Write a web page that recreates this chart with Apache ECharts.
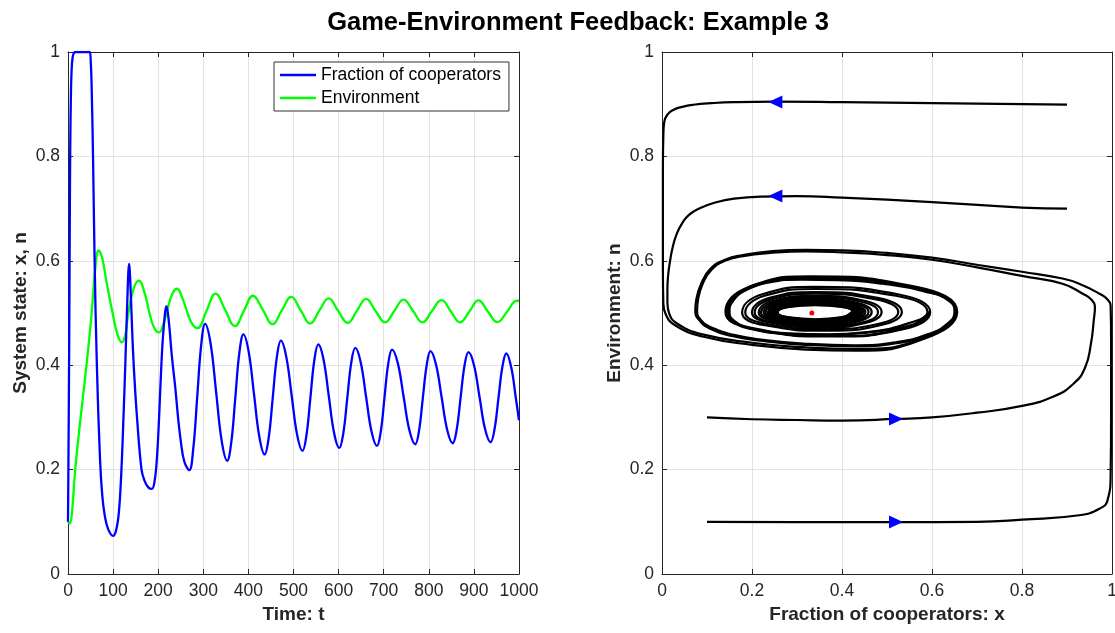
<!DOCTYPE html>
<html>
<head>
<meta charset="utf-8">
<script src="https://cdn.jsdelivr.net/npm/echarts@6/dist/echarts.min.js"></script>
<style>
html,body{margin:0;padding:0;background:#fff;}
#chart{width:1115px;height:633px;}
</style>
</head>
<body>
<div id="chart"></div>
<script>
// ---------- Data ----------
const titleText = 'Game-Environment Feedback: Example 3';
const timeTicks = [0, 100, 200, 300, 400, 500, 600, 700, 800, 900, 1000];

// Left panel: fraction of cooperators x(t)
const cooperators = [
 [0,0.1],[1,0.22],[2,0.35],[3,0.5],[4,0.68],[5,0.82],[6.5,0.92],[8,0.965],[10,0.988],[13,0.998],[17,1],[48,1],
 [50.5,0.98],[52.5,0.93],[55.5,0.8],[59,0.6],[64,0.4],[71,0.22],[76,0.15],[81.5,0.112],[89,0.086],[100,0.073],
 [107,0.085],[113,0.12],[118.5,0.2],[123,0.3],[127,0.4],[131,0.51],[135.5,0.594],[139.5,0.53],[143,0.45],
 [147,0.38],[153,0.3],[163,0.2],[170,0.178],[178,0.166],[186,0.163],[192,0.178],[197,0.22],[202,0.3],[207,0.4],
 [212,0.47],[218.5,0.513],[224,0.48],[230,0.42],[238,0.356],[244,0.3],[250,0.255],[258,0.215],[269,0.199],
 [277.75,0.24],[286.5,0.339],[295.25,0.438],[304,0.479],[316.25,0.441],[328.5,0.348],[340.75,0.255],
 [353,0.217],[362,0.252],[371,0.338],[380,0.424],[389,0.459],[400.75,0.425],[412.5,0.344],[424.25,0.263],
 [436,0.229],[445,0.261],[454,0.338],[463,0.415],[472,0.447],[484,0.416],[496,0.3415],[508,0.267],
 [520,0.236],[528.75,0.266],[537.5,0.338],[546.25,0.41],[555,0.44],[566.6,0.411],[578.25,0.341],[589.9,0.2705],
 [601.5,0.2415],[610.4,0.2695],[619.25,0.337],[628.1,0.405],[637,0.433],[649,0.4056],[661,0.339],[673,0.2728],
 [685,0.2454],[693.4,0.2724],[701.75,0.338],[710.1,0.403],[718.5,0.43],[731.4,0.4035],[744.25,0.339],[757.1,0.275],
 [770,0.2486],[778.4,0.2746],[786.85,0.338],[795.3,0.4],[803.7,0.427],[816,0.4012],[828.35,0.339],[840.7,0.2763],
 [853,0.2505],[861.75,0.276],[870.5,0.338],[879.25,0.3995],[888,0.425],[900.25,0.3998],[912.5,0.339],[924.75,0.2776],
 [937,0.2524],[945.7,0.2772],[954.45,0.337],[963.2,0.397],[971.9,0.4224],[983,0.395],[993,0.337],[1000,0.2946]
];

// Left panel: environment n(t)
const environment = [
 [0,0.1],[4,0.097],[9,0.12],[16,0.2],[28,0.3],[41,0.4],[52,0.495],[60,0.58],[68,0.62],[76,0.605],[85,0.561],
 [100,0.495],[110,0.458],[119,0.444],[127,0.458],[133,0.495],[145,0.545],[157,0.562],[170,0.538],[181.5,0.497],
 [192,0.47],[202,0.463],[212,0.48],[222,0.512],[232,0.538],[242,0.5465],[253,0.53],[265,0.5],[276,0.478],
 [287,0.471],[307,0.504],[327,0.537],[348.5,0.506],[370,0.475],[390,0.504],[410,0.533],[432,0.506],
 [453.7,0.4786],[474,0.505],[495,0.531],[516,0.505],[537,0.48],[557.5,0.505],[578,0.528],[599,0.504],
 [620,0.481],[640.5,0.504],[661,0.527],[682,0.504],[703,0.482],[723.5,0.504],[744,0.5255],[765,0.504],
 [786,0.482],[807,0.504],[828,0.5245],[849,0.503],[869,0.482],[890,0.503],[910,0.524],[931,0.503],
 [952,0.4825],[974,0.503],[995,0.5235],[1000,0.523]
];

// Right panel: phase-plane trajectories [x, n]
const trajFromTop = [
 [0.9,0.899],[0.8,0.9],[0.6,0.902],[0.4,0.904],[0.25,0.905],[0.16,0.904],[0.11,0.902],[0.07,0.899],[0.045,0.895],
 [0.025,0.889],[0.012,0.88],[0.005,0.866],[0.003,0.84],[0.002,0.78],[0.002,0.68],[0.002,0.58],[0.003,0.52],
 [0.008,0.498],[0.03,0.476],[0.09,0.455],[0.2,0.439],[0.32,0.43],[0.43,0.428],
 [0.584,0.451],[0.656,0.502],[0.565,0.55],[0.33,0.57],[0.194,0.55],[0.141,0.502],[0.205,0.469],[0.38,0.455],
 [0.536,0.469],[0.596,0.502],[0.524,0.536],[0.34,0.55],[0.223,0.536],[0.178,0.501],[0.229,0.4765],[0.37,0.466],
 [0.487,0.477],[0.533,0.502],[0.479,0.529],[0.34,0.54],[0.239,0.529],[0.2,0.501],[0.243,0.481],[0.36,0.472],
 [0.452,0.481],[0.488,0.502],[0.447,0.524],[0.34,0.533],[0.25,0.524],[0.215,0.501],[0.253,0.484],[0.355,0.476],
 [0.435,0.484],[0.466,0.502],[0.431,0.52],[0.34,0.528],[0.258,0.52],[0.226,0.501],[0.261,0.486],[0.352,0.479],
 [0.424,0.486],[0.452,0.502],[0.421,0.517],[0.34,0.524],[0.264,0.517],[0.235,0.501],[0.266,0.487],[0.35,0.481],
 [0.417,0.487],[0.443,0.502],[0.414,0.515],[0.34,0.521],[0.269,0.515],[0.242,0.501],[0.271,0.488],[0.347,0.483],
 [0.411,0.488],[0.436,0.502],[0.409,0.514],[0.34,0.519],[0.274,0.514],[0.248,0.501],[0.275,0.49],[0.345,0.485],
 [0.406,0.49],[0.431,0.502],[0.405,0.5125],[0.34,0.517],[0.277,0.5125],[0.252,0.501],[0.277,0.4905],[0.343,0.486],
 [0.403,0.4905],[0.427,0.502],[0.402,0.512],[0.34,0.516],[0.28,0.512],[0.255,0.501],[0.28,0.491],[0.342,0.487],
 [0.4,0.491],[0.424,0.502],[0.4,0.5115],[0.34,0.515],[0.282,0.5115],[0.257,0.501],[0.282,0.4915],[0.342,0.488],
 [0.398,0.4915],[0.422,0.502]
];
const trajFromUpper = [
 [0.9,0.7],[0.8,0.702],[0.6,0.7125],[0.4,0.721],[0.3,0.724],[0.22,0.723],[0.16,0.719],[0.12,0.712],[0.085,0.701],
 [0.06,0.688],[0.045,0.672],[0.033,0.652],[0.024,0.627],[0.018,0.6],[0.014,0.575],[0.012,0.545],[0.012,0.52],
 [0.016,0.499],[0.035,0.479],[0.09,0.459],[0.2,0.443],[0.32,0.434],[0.43,0.431],
 [0.586,0.453],[0.654,0.502],[0.563,0.548],[0.33,0.568],[0.196,0.548],[0.143,0.502],[0.207,0.47],[0.38,0.456],
 [0.537,0.47],[0.594,0.502]
];
const trajFromMiddle = [
 [0.1,0.3],[0.2,0.2965],[0.3,0.295],[0.4,0.294],[0.52,0.297],[0.6,0.3],[0.7,0.309],[0.8,0.322],[0.87,0.34],
 [0.915,0.365],[0.94,0.395],[0.953,0.44],[0.96,0.49],[0.962,0.51],[0.955,0.525],[0.935,0.537],[0.89,0.556],
 [0.8,0.571],[0.703,0.587],[0.6,0.602],[0.5,0.611],[0.4,0.616],[0.32,0.618],[0.24,0.615],[0.18,0.609],[0.14,0.6],
 [0.11,0.583],[0.09,0.555],[0.08,0.525],[0.078,0.505],[0.085,0.488],[0.11,0.472],[0.16,0.458],[0.22,0.449],
 [0.32,0.441],[0.43,0.438],[0.52,0.444],[0.59,0.459],[0.635,0.48],[0.65,0.503],[0.638,0.523],[0.585,0.541],
 [0.49,0.556],[0.39,0.563],[0.31,0.564],[0.235,0.558],[0.185,0.543],[0.157,0.522],[0.15,0.502],[0.162,0.484],
 [0.2,0.47],[0.28,0.461],[0.37,0.459],[0.46,0.464],
 [0.528,0.475],[0.59,0.502],[0.52,0.533],[0.34,0.546],[0.228,0.533],[0.185,0.501],[0.234,0.479],[0.365,0.469],
 [0.48,0.479],[0.525,0.502],[0.473,0.5265],[0.34,0.537],[0.244,0.5265],[0.206,0.501],[0.247,0.482],[0.357,0.474],
 [0.446,0.482],[0.48,0.502],[0.441,0.522],[0.34,0.531],[0.254,0.522],[0.22,0.501],[0.256,0.4845],[0.353,0.477],
 [0.43,0.485],[0.459,0.502],[0.426,0.519],[0.34,0.526],[0.261,0.519],[0.23,0.501],[0.263,0.4865],[0.35,0.48],
 [0.42,0.4865],[0.447,0.502],[0.417,0.516],[0.34,0.522],[0.267,0.516],[0.239,0.501],[0.269,0.488],[0.347,0.482],
 [0.413,0.488],[0.439,0.502],[0.411,0.5145],[0.34,0.52],[0.271,0.5145],[0.245,0.501],[0.273,0.489],[0.345,0.484],
 [0.408,0.489],[0.433,0.502],[0.407,0.513],[0.34,0.518],[0.275,0.513],[0.25,0.501],[0.276,0.49],[0.344,0.4855],
 [0.404,0.4905],[0.429,0.502],[0.403,0.512],[0.34,0.5165],[0.279,0.512],[0.254,0.501],[0.279,0.491],[0.343,0.4865],
 [0.401,0.491],[0.425,0.502],[0.401,0.5115],[0.34,0.5155],[0.281,0.5115],[0.256,0.501],[0.281,0.4915],[0.342,0.4875],
 [0.399,0.4915],[0.423,0.502]
];
const trajFromBottom = [
 [0.1,0.1],[0.3,0.0995],[0.52,0.0995],[0.7,0.1],[0.8,0.104],[0.927,0.1125],[0.972,0.125],[0.99,0.141],[0.997,0.19],
 [0.998,0.3],[0.998,0.45],[0.997,0.512],[0.99,0.526],[0.972,0.537],[0.927,0.556],[0.89,0.566],[0.8,0.579],
 [0.703,0.592],[0.6,0.606],[0.5,0.615],[0.4,0.62],[0.32,0.621],[0.24,0.618],[0.18,0.611],[0.14,0.602],
 [0.108,0.585],[0.087,0.556],[0.076,0.525],[0.074,0.505],[0.082,0.487],[0.107,0.47],[0.155,0.456],[0.22,0.447],
 [0.32,0.439],[0.43,0.436],[0.52,0.442],[0.59,0.457],[0.637,0.478],[0.652,0.503],[0.64,0.524],[0.587,0.542],
 [0.49,0.558],[0.39,0.565],[0.31,0.566],[0.235,0.56],[0.183,0.545],[0.154,0.523],[0.147,0.502],[0.16,0.483],
 [0.2,0.469],[0.28,0.46],[0.37,0.458],[0.46,0.463],[0.54,0.474],[0.583,0.488],[0.594,0.503]
];
const arrowsLeft = [[0.252,0.904],[0.252,0.724]];
const arrowsRight = [[0.52,0.297],[0.52,0.0997]];
const equilibrium = [[0.333,0.5]];

// ---------- Chart ----------
const FONT = '"Liberation Sans", Arial, Helvetica, sans-serif';
const AX = '#262626';
const GRID = '#e3e3e3';

function mainAxis(extra) {
  return Object.assign({
    type: 'value',
    axisLine: {show: true, onZero: false, lineStyle: {color: AX, width: 1}},
    axisTick: {show: true, inside: true, length: 5, lineStyle: {color: AX}},
    axisLabel: {color: AX, fontSize: 17.5, fontFamily: FONT, margin: 8, formatter: v => String(v)},
    splitLine: {show: true, lineStyle: {color: GRID, width: 1}},
    nameTextStyle: {color: AX, fontSize: 19, fontWeight: 'bold', fontFamily: FONT},
    nameLocation: 'middle'
  }, extra);
}
function boxAxis(extra) {
  return Object.assign({
    type: 'value',
    axisLine: {show: true, onZero: false, lineStyle: {color: AX, width: 1}},
    axisTick: {show: true, inside: true, length: 5, lineStyle: {color: AX}},
    axisLabel: {show: false},
    splitLine: {show: false}
  }, extra);
}

const chart = echarts.init(document.getElementById('chart'), null, {renderer: 'canvas'});
const option = {
  animation: false,
  backgroundColor: '#fff',
  title: {
    text: titleText, left: 573, top: 5, textAlign: 'center',
    textStyle: {fontSize: 25.5, fontWeight: 'bold', color: '#000', fontFamily: FONT}
  },
  legend: {
    show: true, orient: 'vertical', left: 274, top: 62,
    data: [{name: 'Fraction of cooperators', icon: 'rect'}, {name: 'Environment', icon: 'rect'}],
    itemWidth: 36, itemHeight: 2.5, itemGap: 3,
    padding: [3, 8, 3, 6],
    borderColor: '#333', borderWidth: 1, backgroundColor: '#fff', borderRadius: 0,
    textStyle: {fontSize: 17.5, lineHeight: 20, color: '#000', fontFamily: FONT}
  },
  grid: [
    {left: 68, top: 52, width: 451, height: 522, outerBoundsMode: 'none', containLabel: false},
    {left: 662, top: 52, width: 450, height: 522, outerBoundsMode: 'none', containLabel: false}
  ],
  xAxis: [
    mainAxis({gridIndex: 0, min: 0, max: 1000, interval: 100, name: 'Time: t', nameGap: 31}),
    mainAxis({gridIndex: 1, min: 0, max: 1, interval: 0.2, name: 'Fraction of cooperators: x', nameGap: 31}),
    boxAxis({gridIndex: 0, position: 'top', min: 0, max: 1000, interval: 100}),
    boxAxis({gridIndex: 1, position: 'top', min: 0, max: 1, interval: 0.2})
  ],
  yAxis: [
    mainAxis({gridIndex: 0, min: 0, max: 1, interval: 0.2, name: 'System state: x, n', nameGap: 38}),
    mainAxis({gridIndex: 1, min: 0, max: 1, interval: 0.2, name: 'Environment: n', nameGap: 38}),
    boxAxis({gridIndex: 0, position: 'right', min: 0, max: 1, interval: 0.2}),
    boxAxis({gridIndex: 1, position: 'right', min: 0, max: 1, interval: 0.2})
  ],
  series: [
    {name: 'Fraction of cooperators', type: 'line', xAxisIndex: 0, yAxisIndex: 0, data: cooperators,
     showSymbol: false, smooth: 0.4, lineStyle: {color: '#0000ff', width: 2.3}, itemStyle: {color: '#0000ff'}, z: 3},
    {name: 'Environment', type: 'line', xAxisIndex: 0, yAxisIndex: 0, data: environment,
     showSymbol: false, smooth: 0.45, lineStyle: {color: '#00ff00', width: 2.3}, itemStyle: {color: '#00ff00'}, z: 2},
    {type: 'line', xAxisIndex: 1, yAxisIndex: 1, data: trajFromTop, showSymbol: false, smooth: 0.5,
     lineStyle: {color: '#000', width: 2.2}},
    {type: 'line', xAxisIndex: 1, yAxisIndex: 1, data: trajFromUpper, showSymbol: false, smooth: 0.5,
     lineStyle: {color: '#000', width: 2.2}},
    {type: 'line', xAxisIndex: 1, yAxisIndex: 1, data: trajFromMiddle, showSymbol: false, smooth: 0.5,
     lineStyle: {color: '#000', width: 2.2}},
    {type: 'line', xAxisIndex: 1, yAxisIndex: 1, data: trajFromBottom, showSymbol: false, smooth: 0.5,
     lineStyle: {color: '#000', width: 2.2}},
    {type: 'scatter', xAxisIndex: 1, yAxisIndex: 1, data: arrowsLeft, symbol: 'path://M10,0 L0,5 L10,10 Z',
     symbolSize: [14, 13], itemStyle: {color: '#0000ff', opacity: 1}, z: 5},
    {type: 'scatter', xAxisIndex: 1, yAxisIndex: 1, data: arrowsRight, symbol: 'path://M0,0 L10,5 L0,10 Z',
     symbolSize: [14, 13], itemStyle: {color: '#0000ff', opacity: 1}, z: 5},
    {type: 'scatter', xAxisIndex: 1, yAxisIndex: 1, data: equilibrium, symbol: 'circle', symbolSize: 5,
     itemStyle: {color: '#ff0000', opacity: 1}, z: 6}
  ]
};
chart.setOption(option);
</script>
</body>
</html>
